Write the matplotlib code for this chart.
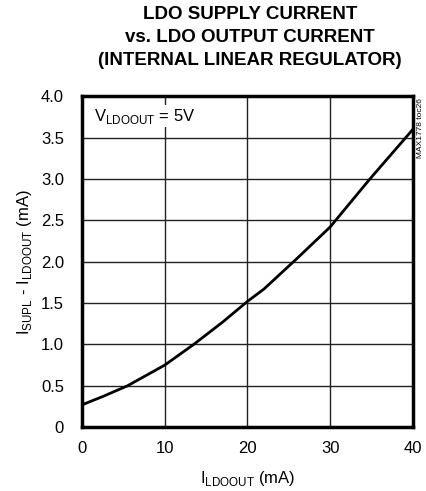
import matplotlib.pyplot as plt

plt.rcParams['font.family'] = ['Liberation Sans', 'DejaVu Sans']

# curve
i_out = [0, 2.5, 5.5, 10, 13.5, 17, 20, 22, 26, 30, 34.8, 40]
i_sup = [0.27, 0.37, 0.5, 0.75, 1.0, 1.27, 1.52, 1.67, 2.04, 2.42, 3.0, 3.6]

xticks = [0, 10, 20, 30, 40]
yticks = [0, 0.5, 1.0, 1.5, 2.0, 2.5, 3.0, 3.5, 4.0]
ylabels = ["0", "0.5", "1.0", "1.5", "2.0", "2.5", "3.0", "3.5", "4.0"]

fig = plt.figure(figsize=(4.27, 4.91), dpi=100)
ax = fig.add_axes([0.192, 0.130, 0.775, 0.674])

ax.plot(i_out, i_sup, color="black", lw=2.0, zorder=3)

ax.set_xlim(0, 40)
ax.set_ylim(0, 4.0)
ax.set_xticks(xticks)
ax.set_yticks(yticks)
ax.set_yticklabels(ylabels)
ax.tick_params(length=0, labelsize=12)
ax.tick_params(axis="y", pad=13)
ax.tick_params(axis="x", pad=10)
ax.grid(True, color="#222222", lw=1.0)
for s in ax.spines.values():
    s.set_linewidth(2.5)

ax.set_xlabel("I$_{\\mathregular{LDOOUT}}$ (mA)", fontsize=12, labelpad=9)
ax.set_ylabel("I$_{\\mathregular{SUPL}}$ - I$_{\\mathregular{LDOOUT}}$ (mA)", fontsize=12, labelpad=5)

ax.text(1.5, 3.76, "V$_{\\mathregular{LDOOUT}}$ = 5V", fontsize=12, va="center",
        bbox=dict(facecolor="white", edgecolor="none", pad=1), zorder=4)

fig.text(0.585, 0.988, "LDO SUPPLY CURRENT\nvs. LDO OUTPUT CURRENT\n(INTERNAL LINEAR REGULATOR)",
         ha="center", va="top", fontsize=13.5, fontweight="bold", linespacing=1.45)

fig.text(0.985, 0.80, "MAX1778 toc26", rotation=90, fontsize=6, ha="center", va="top")

fig.savefig("out.png", dpi=100)
